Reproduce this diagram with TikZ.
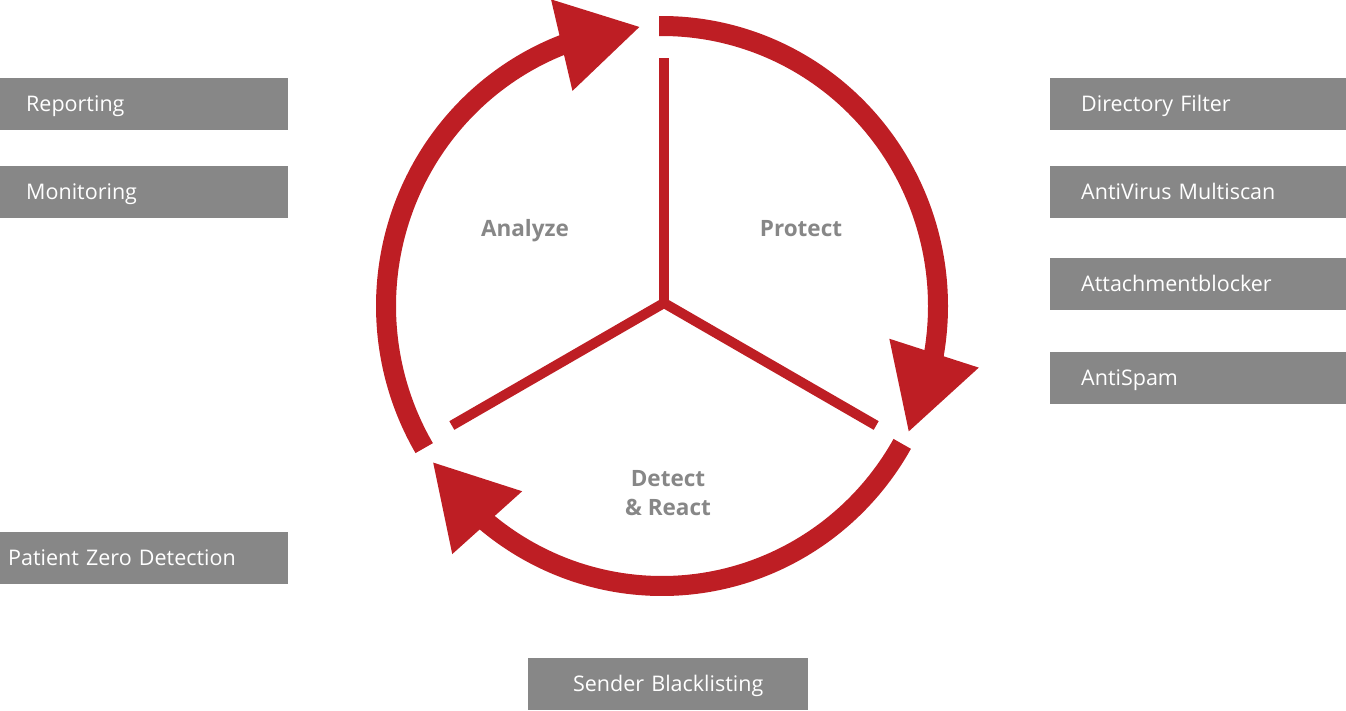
\documentclass[tikz,border=0pt]{standalone}
\usepackage{fontspec}
\setmainfont{Open Sans}
\usetikzlibrary{calc}
\definecolor{cyclered}{RGB}{190,30,36}
\definecolor{toolgray}{RGB}{135,135,135}
\tikzset{
  ring/.style={draw=cyclered, line width=20pt},
  spoke/.style={draw=cyclered, line width=10pt},
  head/.style={fill=cyclered},
  phase/.style={text=toolgray, font=\fontsize{22.5}{29}\selectfont\bfseries, align=center},
  tool/.style={fill=toolgray, text=white, font=\fontsize{21.5}{25}\selectfont,
    minimum height=52pt, text height=17.5pt, text depth=3pt, anchor=north west, align=left},
}
\begin{document}
\begin{tikzpicture}[x=1pt,y=1pt]
  \useasboundingbox (0,0) rectangle (1346,-710);
  \coordinate (c) at (662,-306);
  \coordinate (hub) at (664,-303);

  % spokes
  \foreach \a in {90,210,330}
    \draw[spoke] (hub) -- ++(\a:245);

  % cycle arrows: start / arc end / head base / tip
  \foreach \s/\e/\b/\t [count=\i] in {90.6/-14/-9.7/-26.6,
                                       -29.5/-133/-129.3/-146,
                                       -149.5/-253/-248.7/-265.3}{
    \draw[ring] ($(c)+(\s:276 and 280)$)
      arc[start angle=\s, end angle=\e, x radius=276, y radius=280];
    \coordinate (b\i) at ($(c)+(\b:276 and 280)$);
    \coordinate (t\i) at ($(c)+(\t:276 and 280)$);
    \fill[head] ($(b\i)!47pt!90:(t\i)$) -- (t\i) -- ($(b\i)!47pt!-90:(t\i)$) -- cycle;
  }

  % phases
  \node[phase] (analyze) at (525,-231) {Analyze};
  \node[phase] (protect) at (801,-229) {Protect};
  \node[phase] (detect) at (668,-493) {Detect\\\& React};

  % tools
  \node[tool, inner xsep=26pt, text width=236pt] (reporting) at (0,-78) {Reporting};
  \node[tool, inner xsep=26pt, text width=236pt] (monitoring) at (0,-166) {Monitoring};
  \node[tool, inner xsep=8pt, text width=272pt] (patzero) at (0,-532) {Patient Zero Detection};
  \node[tool, inner xsep=31pt, text width=234pt] (dirfilter) at (1050,-78) {Directory Filter};
  \node[tool, inner xsep=31pt, text width=234pt] (avscan) at (1050,-166) {AntiVirus Multiscan};
  \node[tool, inner xsep=31pt, text width=234pt] (attblock) at (1050,-258) {Attachmentblocker};
  \node[tool, inner xsep=31pt, text width=234pt] (antispam) at (1050,-352) {AntiSpam};
  \node[tool, inner xsep=0pt, text width=280pt, align=center] (sendbl) at (528,-658) {Sender Blacklisting};
\end{tikzpicture}
\end{document}
